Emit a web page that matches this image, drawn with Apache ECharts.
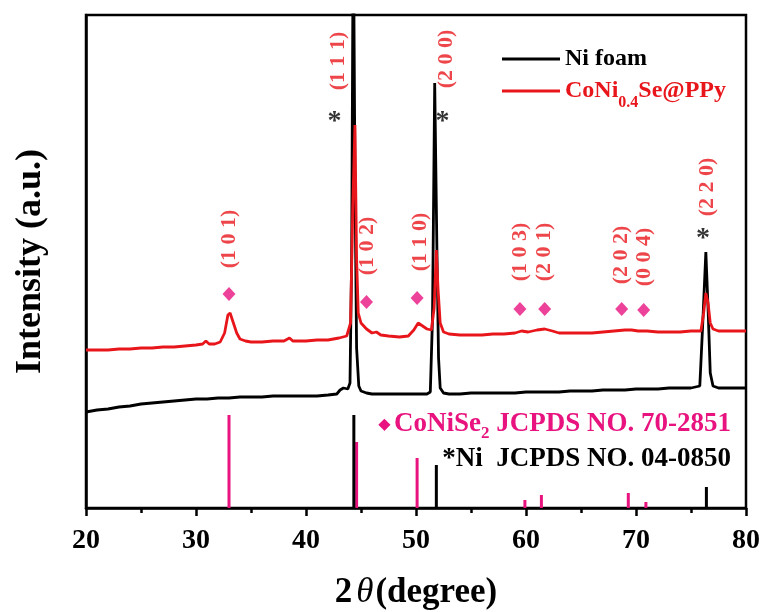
<!DOCTYPE html>
<html><head><meta charset="utf-8">
<script src="https://cdn.jsdelivr.net/npm/echarts@6/dist/echarts.min.js"></script>
<style>html,body{margin:0;padding:0;background:#fff}#c{width:762px;height:612px}</style>
</head><body><div id="c"></div>
<script>
// ---- data (2θ in degrees, intensity in arbitrary units) ----
const niFoamTheta = [20,21,22,23,24,25,26,27,28,29,30,31,32,33,34,35,36,37,38,39,40,41,42,42.8,43.1,43.4,43.8,44.0,44.15,44.3,44.45,44.6,44.8,45.0,45.5,46,47,48,49,50,51,51.3,51.5,51.7,51.9,52.05,52.2,52.5,53,54,55,56,57,58,59,60,61,62,63,64,65,66,67,68,69,70,71,72,73,74,75,75.8,76.05,76.35,76.55,76.75,77.0,77.5,78,79,80];
const niFoamIntensity = [96,98,99,101,102,104,105,106,107,108,109,109,110,110,111,111,111,112,112,112,112,112,113,114,118,120,119,125,250,600,330,160,122,117,115,114,114,114,114,114,114,116,190,425,260,150,120,115,114,114,115,115,115,115,115,116,116,116,116,117,117,117,118,118,118,119,119,119,120,120,120,122,180,256,200,135,122,120,120,120,120];

const coniTheta = [20,21,22,23,24,25,26,27,28,29,30,30.6,30.9,31.2,31.7,32.2,32.6,32.9,33.1,33.4,33.7,34.0,34.5,35,36,37,38,38.5,38.8,40,41,42,43,43.7,44.05,44.25,44.45,44.6,44.75,45.0,45.5,46.0,46.4,46.8,47.5,48.5,49.3,49.8,50.2,50.6,51.0,51.4,51.65,51.85,52.0,52.2,52.5,53,54,55,56,57,58,59,59.6,60.2,61,61.7,62.4,63,64,65,66,67,68,69,69.6,70.2,71,72,73,74,75,75.9,76.15,76.35,76.55,76.75,77.0,77.5,78,79,80];
const coniIntensity = [158,158,158,159,159,160,160,161,161,162,163,164,167,164,164,166,175,193,195,185,175,169,167,166,166,167,167,170,167,167,168,168,170,172,185,300,383,250,195,185,179,175,176,173,172,171,172,178,185,182,179,178,200,258,220,185,176,174,173,173,173,174,174,175,177,176,178,179,177,175,175,175,175,176,177,178,178,177,177,176,176,176,177,177,195,215,205,185,179,177,177,177,177];

// reference patterns (stick heights)
const coniseRefTheta = [33.0, 44.6, 50.1, 59.9, 61.4, 69.3, 70.9];
const coniseRefIntensity = [93, 66, 50, 8, 13, 15, 6];
const niRefTheta = [44.35, 51.85, 76.4];
const niRefIntensity = [93, 43, 21];

// annotations
const diamondTheta = [33.0, 45.5, 50.1, 59.45, 61.7, 68.7, 70.7];
const diamondLevel = [214, 206, 210, 199, 199, 199, 198];
const planeLabels = ['(1 0 1)','(1 1 1)','(1 0 2)','(1 1 0)','(2 0 0)','(1 0 3)','(2 0 1)','(2 0 2)','(0 0 4)','(2 2 0)'];
const planeTheta = [33.0, 42.9, 45.6, 50.4, 52.8, 59.45, 61.7, 68.7, 70.8, 76.5];
const planeLevel = [269, 447, 262, 266, 449, 256, 256, 253, 251, 321];
const starTheta = [42.6, 52.4, 76.1];
const starLevel = [390, 390, 273];

const seriesNames = ['Ni foam', 'CoNi0.4Se@PPy'];
const xMin = 20, xMax = 80, xStep = 10;

// ---- styles ----
const RED = '#e8161b';
const PINK = '#e8137f';
const SERIF = '"Liberation Serif", "Times New Roman", serif';

const zip = (a, b) => a.map((v, i) => [v, b[i]]);

function stickSeries(name, xs, ys, color) {
  return {
    type: 'custom', name: name, silent: true, z: 3,
    data: zip(xs, ys),
    renderItem: function (params, api) {
      const p0 = api.coord([api.value(0), 0]);
      const p1 = api.coord([api.value(0), api.value(1)]);
      return { type: 'line', shape: { x1: p0[0], y1: p0[1], x2: p1[0], y2: p1[1] },
               style: { stroke: color, lineWidth: 3 } };
    }
  };
}

const chart = echarts.init(document.getElementById('c'), null, { renderer: 'canvas' });
chart.setOption({
  animation: false,
  backgroundColor: '#fff',
  grid: { left: 86, right: 16, top: 15, bottom: 104, outerBoundsMode: 'none', containLabel: false,
          show: true, borderColor: '#000', borderWidth: 2.5 },
  legend: {
    orient: 'vertical', left: 497, top: 42, itemWidth: 58, itemHeight: 3, itemGap: 0,
    icon: 'rect', selectedMode: false,
    data: [
      { name: seriesNames[0], textStyle: { rich: { a: { color: '#000', fontSize: 24, fontWeight: 'bold', fontFamily: SERIF, lineHeight: 22 } } } },
      { name: seriesNames[1], textStyle: { rich: {
          a: { color: RED, fontSize: 24, fontWeight: 'bold', fontFamily: SERIF, lineHeight: 22 },
          s: { color: RED, fontSize: 16, fontWeight: 'bold', fontFamily: SERIF, lineHeight: 16, padding: [24, 0, 0, 0] } } } }
    ],
    formatter: function (n) { return n === seriesNames[0] ? '{a|Ni foam}' : '{a|CoNi}{s|0.4}{a|Se@PPy}'; }
  },
  xAxis: {
    type: 'value', min: xMin, max: xMax, interval: xStep,
    axisLine: { onZero: false, lineStyle: { color: '#000', width: 2.5 } },
    axisTick: { length: 8, lineStyle: { color: '#000', width: 2.5 } },
    minorTick: { show: true, splitNumber: 2, length: 5, lineStyle: { color: '#000', width: 2.5 } },
    splitLine: { show: false },
    axisLabel: { color: '#000', fontSize: 28, fontWeight: 'bold', fontFamily: SERIF, margin: 19 },
    name: '{n|2}{t|θ}{n|(degree)}', nameLocation: 'middle', nameGap: 67,
    nameTextStyle: { rich: {
      n: { color: '#000', fontSize: 35, fontWeight: 'bold', fontFamily: SERIF },
      t: { color: '#000', fontSize: 35, fontStyle: 'italic', fontFamily: SERIF, padding: [0, 2, 0, 4] } } }
  },
  yAxis: {
    type: 'value', min: 0, max: 493,
    axisLine: { show: true, lineStyle: { color: '#000', width: 2.5 } },
    axisTick: { show: false }, axisLabel: { show: false }, splitLine: { show: false },
    name: 'Intensity (a.u.)', nameLocation: 'middle', nameGap: 37,
    nameTextStyle: { color: '#000', fontSize: 36, fontWeight: 'bold', fontFamily: SERIF }
  },
  graphic: [
    { type: 'text', right: 31, top: 407, style: {
        text: '{d|◆} {m|CoNiSe}{b|2}{m| JCPDS NO. 70-2851}',
        rich: {
          d: { fill: PINK, fontSize: 16, fontFamily: 'DejaVu Sans' },
          m: { fill: PINK, fontSize: 27, fontWeight: 'bold', fontFamily: SERIF, lineHeight: 30 },
          b: { fill: PINK, fontSize: 17, fontWeight: 'bold', fontFamily: SERIF, lineHeight: 17, padding: [18, 0, 0, 0] }
        } } },
    { type: 'text', right: 31, top: 446, style: {
        text: '*Ni  JCPDS NO. 04-0850', fill: '#000', fontSize: 27, fontWeight: 'bold', fontFamily: SERIF } }
  ],
  series: [
    { name: seriesNames[0], type: 'line', data: zip(niFoamTheta, niFoamIntensity), showSymbol: false, symbol: 'none',
      lineStyle: { color: '#000', width: 2.8 }, itemStyle: { color: '#000' }, clip: true, z: 2 },
    { name: seriesNames[1], type: 'line', data: zip(coniTheta, coniIntensity), showSymbol: false, symbol: 'none',
      lineStyle: { color: RED, width: 2.8 }, itemStyle: { color: RED }, clip: true, z: 2 },
    stickSeries('CoNiSe2 JCPDS 70-2851', coniseRefTheta, coniseRefIntensity, PINK),
    stickSeries('Ni JCPDS 04-0850', niRefTheta, niRefIntensity, '#000'),
    { name: 'CoNiSe2 peaks', type: 'scatter', silent: true, symbol: 'diamond', symbolSize: [13, 14],
      itemStyle: { color: PINK }, data: zip(diamondTheta, diamondLevel), z: 4 },
    { name: 'planes', type: 'scatter', silent: true, symbolSize: 1, itemStyle: { color: 'transparent' },
      data: planeTheta.map((x, i) => [x, planeLevel[i], planeLabels[i]]),
      label: { show: true, position: 'inside', rotate: 90, formatter: p => p.data[2],
               color: RED, fontSize: 22, fontWeight: 'bold', fontFamily: SERIF }, z: 5 },
    { name: 'Ni peaks', type: 'scatter', silent: true, symbolSize: 1, itemStyle: { color: 'transparent' },
      data: zip(starTheta, starLevel),
      label: { show: true, position: 'inside', formatter: '*', color: '#000', fontSize: 28, fontWeight: 'bold', fontFamily: SERIF, offset: [0, 4] }, z: 5 }
  ]
});
</script>
</body></html>
